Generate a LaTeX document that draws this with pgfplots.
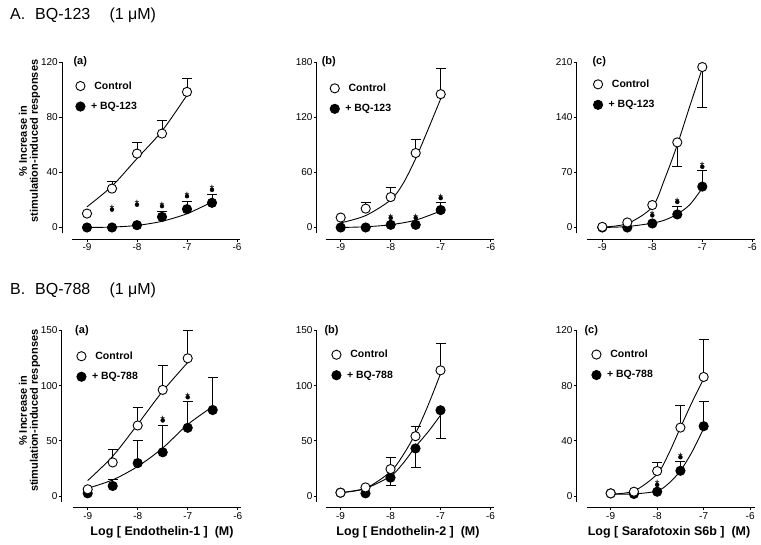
\documentclass[border=0pt]{standalone}
\usepackage{fontspec}
\setmainfont{Liberation Sans}
\usepackage{pgfplots}
\pgfplotsset{compat=1.18}

\pgfplotsset{
  panel/.style={
    scale only axis, clip=false, anchor=south west,
    axis lines=left, axis line style={-, line width=0.9pt},
    axis x line shift=5.5pt,
    xmin=-9.3, xmax=-5.94, width=168pt, height=171.5pt,
    xtick={-9,-8,-7,-6},
    tick align=outside, major tick length=3pt,
    tick style={line width=0.9pt, black},
    /pgf/number format/assume math mode=true,
    ticklabel style={font=\fontsize{10}{12}\selectfont},
    yticklabel style={inner sep=1pt},
    xticklabel style={inner sep=1.5pt},
    legend style={draw=none, fill=none, at={(0,1)}, anchor=north west,
      inner sep=0pt, row sep=11.3pt, nodes={inner sep=0pt},
      font=\fontsize{10.5}{12}\selectfont\bfseries,
      /tikz/every odd column/.style={column sep=6pt}},
    legend cell align=left,
    legend image code/.code={\draw[##1] plot coordinates {(0pt,0pt)};},
  },
  ctrl/.style={only marks, mark=*, mark size=4.6pt,
    mark options={fill=white, draw=black, line width=0.9pt}},
  antag/.style={only marks, mark=*, mark size=4.6pt,
    mark options={fill=black, draw=black, line width=0.9pt}},
  fit/.style={black, line width=0.9pt, smooth, mark=none, forget plot},
  errup/.style={only marks, mark=none, forget plot,
    error bars/.cd, y dir=plus, y explicit,
    error bar style={draw=black, line width=0.9pt},
    error mark options={rotate=90, mark size=5pt, line width=0.9pt, draw=black}},
  errdown/.style={only marks, mark=none, forget plot,
    error bars/.cd, y dir=minus, y explicit,
    error bar style={draw=black, line width=0.9pt},
    error mark options={rotate=90, mark size=5pt, line width=0.9pt, draw=black}},
  stars/.style={only marks, mark=*, mark options={draw=none, fill=none}, forget plot,
    nodes near coords={*}, nodes near coords align={center},
    every node near coord/.append style={font=\fontsize{12}{12}\selectfont,
      inner sep=0pt, text=black}},
}
\newcommand{\plab}[2]{\node[anchor=west, font=\fontsize{11}{12}\selectfont\bfseries, xshift=#2]
  at (rel axis cs:0,1) {(#1)};}

\begin{document}
\begin{tikzpicture}
\useasboundingbox (0pt,0pt) rectangle (761pt,545pt);

% titles
\node[anchor=base west, font=\fontsize{16}{18}\selectfont] at (6.7pt,525pt) {A.};
\node[anchor=base west, font=\fontsize{16}{18}\selectfont] at (31.7pt,525pt) {BQ-123};
\node[anchor=base west, font=\fontsize{16}{18}\selectfont] at (106pt,525pt) {(1 μM)};
\node[anchor=base west, font=\fontsize{16}{18}\selectfont] at (6.7pt,250pt) {B.};
\node[anchor=base west, font=\fontsize{16}{18}\selectfont] at (31.7pt,250pt) {BQ-788};
\node[anchor=base west, font=\fontsize{16}{18}\selectfont] at (106pt,250pt) {(1 μM)};

% y labels
\node[rotate=90, align=center, font=\fontsize{11}{11}\selectfont\bfseries] at (29.5pt,404pt)
  {\% Increase in\\stimulation-induced responses};
\node[rotate=90, align=center, font=\fontsize{11}{11}\selectfont\bfseries] at (29.5pt,134.3pt)
  {\% Increase in\\stimulation-induced responses};

% x labels
\node[anchor=base, font=\fontsize{12.5}{14}\selectfont\bfseries] at (162pt,9pt) {Log [ Endothelin-1 ]\ \ (M)};
\node[anchor=base, font=\fontsize{12.5}{14}\selectfont\bfseries] at (408pt,9pt) {Log [ Endothelin-2 ]\ \ (M)};
\node[anchor=base, font=\fontsize{12.5}{14}\selectfont\bfseries] at (669pt,9pt) {Log [ Sarafotoxin S6b ]\ \ (M)};

% ---------- A(a)
\begin{axis}[panel, at={(72pt,311.5pt)}, ymin=-4.35, ymax=120, ytick={0,40,80,120},
  axis y line shift=10pt, legend style={xshift=3.65pt, yshift=-19.25pt}]
\addplot[errup] coordinates {(-8.5,28.2) +- (0,4.9) (-8,53.6) +- (0,7.7) (-7.5,68.1) +- (0,9.6) (-7,98.3) +- (0,9.6)};
\addplot[errup] coordinates {(-7.5,7.7) +- (0,3.6) (-7,13.3) +- (0,5.3) (-6.5,17.9) +- (0,6.2)};
\addplot[fit] coordinates {(-9,15) (-8.5,30) (-8,50) (-7.5,70) (-7,96)};
\addplot[fit] coordinates {(-9,0) (-8.5,0.3) (-8,1.5) (-7.5,4.5) (-7,10) (-6.5,18.5)};
\addplot[antag, forget plot] coordinates {(-9,0) (-8.5,0) (-8,1.7) (-7.5,7.7) (-7,13.3) (-6.5,17.9)};
\addplot[ctrl, forget plot] coordinates {(-9,10.1) (-8.5,28.2) (-8,53.6) (-7.5,68.1) (-7,98.3)};
\addplot[stars] coordinates {(-8.5,13) (-8,16.5) (-7.5,15.5) (-7,22.7) (-6.5,27.3)};
\addlegendimage{ctrl}\addlegendentry{\hspace{3.3pt}Control}
\addlegendimage{antag}\addlegendentry{+ BQ-123}
\plab{a}{-2pt}
\end{axis}

% ---------- A(b)
\begin{axis}[panel, at={(325.7pt,311.5pt)}, ymin=-6.53, ymax=180, ytick={0,60,120,180},
  axis y line shift=9pt, legend style={xshift=4.25pt, yshift=-21.55pt}]
\addplot[errup] coordinates {(-8.5,20.5) +- (0,6.5) (-8,33.1) +- (0,10) (-7.5,81) +- (0,15) (-7,145) +- (0,28)};
\addplot[errup] coordinates {(-7,19) +- (0,8.7)};
\addplot[fit] coordinates {(-9,5) (-8.5,13) (-8,30) (-7.75,48) (-7.5,75) (-7.25,107) (-7,140)};
\addplot[fit] coordinates {(-9,0) (-8.5,0.8) (-8,3) (-7.5,8) (-7,18)};
\addplot[antag, forget plot] coordinates {(-9,0) (-8.5,0) (-8,2.9) (-7.5,2.9) (-7,19)};
\addplot[ctrl, forget plot] coordinates {(-9,10.8) (-8.5,20.5) (-8,33.1) (-7.5,81) (-7,145)};
\addplot[stars] coordinates {(-8,10.4) (-7.5,10.4) (-7,32)};
\addlegendimage{ctrl}\addlegendentry{\hspace{3.3pt}Control}
\addlegendimage{antag}\addlegendentry{+ BQ-123}
\plab{b}{-7.4pt}
\end{axis}

% ---------- A(c)
\begin{axis}[panel, at={(587.3pt,311.5pt)}, ymin=-7.6, ymax=210, ytick={0,70,140,210},
  axis y line shift=10.6pt, legend style={xshift=5.95pt, yshift=-17.55pt}]
\addplot[errdown] coordinates {(-7.5,108) +- (0,30.6) (-7,203.6) +- (0,51)};
\addplot[errup] coordinates {(-7.5,16.6) +- (0,9.8) (-7,51.9) +- (0,19.9)};
\addplot[fit] coordinates {(-9,0.5) (-8.5,5) (-8,26) (-7.75,62) (-7.5,105) (-7.25,154) (-7,202)};
\addplot[fit] coordinates {(-9,0) (-8.5,1.2) (-8,5.5) (-7.75,9.5) (-7.5,17) (-7.25,29) (-7,50)};
\addplot[antag, forget plot] coordinates {(-9,0) (-8.5,0) (-8,5.1) (-7.5,16.6) (-7,51.9)};
\addplot[ctrl, forget plot] coordinates {(-9,0.8) (-8.5,6.4) (-8,28.5) (-7.5,108) (-7,203.6)};
\addplot[stars] coordinates {(-8,15.4) (-7.5,32.4) (-7,77)};
\addlegendimage{ctrl}\addlegendentry{\hspace{3.3pt}Control}
\addlegendimage{antag}\addlegendentry{+ BQ-123}
\plab{c}{1.7pt}
\end{axis}

% ---------- B(a)
\begin{axis}[panel, at={(72.7pt,43pt)}, ymin=-5.44, ymax=150, ytick={0,50,100,150},
  axis y line shift=11pt, legend style={xshift=3.95pt, yshift=-20.95pt}]
\addplot[errup] coordinates {(-8.5,30.4) +- (0,11.6) (-8,63.9) +- (0,16.1) (-7.5,96.2) +- (0,21.8) (-7,124.8) +- (0,25.2)};
\addplot[errup] coordinates {(-8.5,9.1) +- (0,6) (-8,29.8) +- (0,20.4) (-7.5,39.6) +- (0,24.3) (-7,61.8) +- (0,24.3) (-6.5,77.9) +- (0,29.1)};
\addplot[fit] coordinates {(-9,14) (-8.5,36) (-8,65) (-7.5,95) (-7,121)};
\addplot[fit] coordinates {(-9,7) (-8.5,14.6) (-8,26.8) (-7.5,43.5) (-7,64.8) (-6.5,81)};
\addplot[antag, forget plot] coordinates {(-9,2.4) (-8.5,9.1) (-8,29.8) (-7.5,39.6) (-7,61.8) (-6.5,77.9)};
\addplot[ctrl, forget plot] coordinates {(-9,6.1) (-8.5,30.4) (-8,63.9) (-7.5,96.2) (-7,124.8)};
\addplot[stars] coordinates {(-7.5,68.5) (-7,89.5)};
\addlegendimage{ctrl}\addlegendentry{\hspace{3.3pt}Control}
\addlegendimage{antag}\addlegendentry{+ BQ-788}
\plab{a}{-1pt}
\end{axis}

% ---------- B(b)
\begin{axis}[panel, at={(325.5pt,43pt)}, ymin=-5.44, ymax=150, ytick={0,50,100,150},
  axis y line shift=8.8pt, legend style={xshift=6.15pt, yshift=-19.45pt}]
\addplot[errup] coordinates {(-8,24.4) +- (0,10.2) (-7.5,54.2) +- (0,9.1) (-7,113.9) +- (0,24.7)};
\addplot[errdown] coordinates {(-8,16.6) +- (0,7) (-7.5,43.1) +- (0,17.5) (-7,77.7) +- (0,25.6)};
\addplot[fit] coordinates {(-9,3) (-8.5,6.9) (-8,22) (-7.75,37) (-7.5,56.6) (-7.25,82) (-7,110.8)};
\addplot[fit] coordinates {(-9,3) (-8.5,6.9) (-8,18) (-7.75,29.5) (-7.5,44.6) (-7.25,58) (-7,73.2)};
\addplot[antag, forget plot] coordinates {(-9,3) (-8.5,2.4) (-8,16.6) (-7.5,43.1) (-7,77.7)};
\addplot[ctrl, forget plot] coordinates {(-9,3) (-8.5,7.8) (-8,24.4) (-7.5,54.2) (-7,113.9)};
\addlegendimage{ctrl}\addlegendentry{\hspace{3.3pt}Control}
\addlegendimage{antag}\addlegendentry{+ BQ-788}
\plab{b}{-4.5pt}
\end{axis}

% ---------- B(c)
\begin{axis}[panel, at={(586.7pt,43pt)}, xmin=-9.516, xmax=-5.9, width=168.1pt,
  ymin=-4.35, ymax=120, ytick={0,40,80,120},
  axis y line shift=10pt, legend style={xshift=4.95pt, yshift=-19.25pt}]
\addplot[errup] coordinates {(-8,18.1) +- (0,6) (-7.5,49.6) +- (0,16.2) (-7,86.3) +- (0,27.2)};
\addplot[errup] coordinates {(-7.5,18.3) +- (0,6.5) (-7,50.6) +- (0,18.1)};
\addplot[fit] coordinates {(-9,1.4) (-8.5,3.6) (-8,15.9) (-7.75,30.8) (-7.5,49.6) (-7.25,68) (-7,85)};
\addplot[fit] coordinates {(-9,1.4) (-8.5,1.5) (-8,3.6) (-7.75,9.2) (-7.5,18.3) (-7.25,32) (-7,49)};
\addplot[antag, forget plot] coordinates {(-9,1.9) (-8.5,1.5) (-8,3.1) (-7.5,18.3) (-7,50.6)};
\addplot[ctrl, forget plot] coordinates {(-9,1.9) (-8.5,3.1) (-8,18.1) (-7.5,49.6) (-7,86.3)};
\addplot[stars] coordinates {(-8,8.1) (-7.5,28.1)};
\addlegendimage{ctrl}\addlegendentry{\hspace{3.3pt}Control}
\addlegendimage{antag}\addlegendentry{+ BQ-788}
\plab{c}{-5.7pt}
\end{axis}
\end{tikzpicture}
\end{document}
